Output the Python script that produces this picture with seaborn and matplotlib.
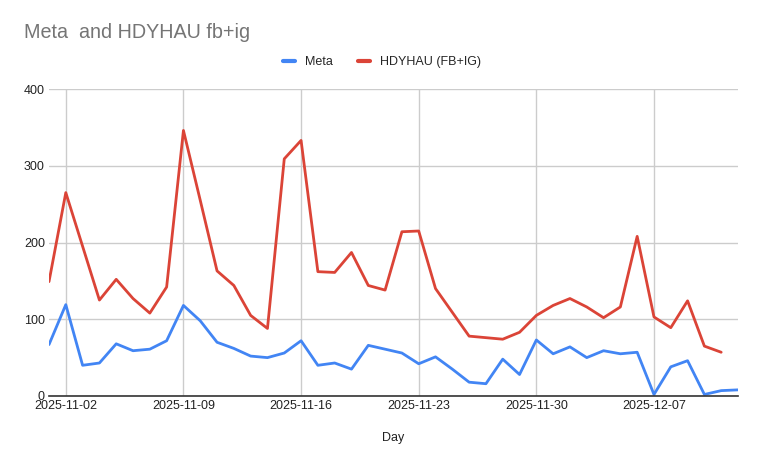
import matplotlib
matplotlib.use("Agg")
import matplotlib.pyplot as plt
import matplotlib.dates as mdates
import seaborn as sns
import pandas as pd
import numpy as np

dates = pd.date_range("2025-11-01", "2025-12-12", freq="D")

meta = [67, 119, 40, 43, 68, 59, 61, 72, 118, 98, 70, 62, 52, 50, 56,
        72, 40, 43, 35, 66, 61, 56, 42, 51, 35, 18, 16, 48, 28,
        73, 55, 64, 50, 59, 55, 57, 2, 38, 46, 2, 7, 8]
hdyhau = [149, 265, 195, 125, 152, 127, 108, 142, 346, 255, 163, 144, 105, 88, 309,
          333, 162, 161, 187, 144, 138, 214, 215, 140, 109, 78, 76, 74, 83,
          105, 118, 127, 116, 102, 116, 208, 103, 89, 124, 65, 57, np.nan]

series_names = ["Meta", "HDYHAU (FB+IG)"]
colors = ["#4285F4", "#DB4437"]
yticks = [0, 100, 200, 300, 400]
xtick_labels = ["2025-11-02", "2025-11-09", "2025-11-16", "2025-11-23", "2025-11-30", "2025-12-07"]

df = pd.DataFrame({"Day": list(dates) * 2,
                   "value": meta + hdyhau,
                   "series": [series_names[0]] * len(dates) + [series_names[1]] * len(dates)})
df = df.dropna()

sns.set_style("white")
plt.rcParams["font.family"] = ["Liberation Sans", "DejaVu Sans"]

fig = plt.figure(figsize=(7.62, 4.63), dpi=100)
ax = fig.add_axes([49/762, 1-396/463, (738-49)/762, (396-89)/463])

sns.lineplot(data=df, x="Day", y="value", hue="series", palette=colors,
             hue_order=series_names, linewidth=2, ax=ax, legend=False)

ax.set_ylim(0, 400)
ax.set_xlim(pd.Timestamp("2025-11-01"), pd.Timestamp("2025-12-12"))
ax.set_yticks(yticks)
ax.set_yticklabels([str(v) for v in yticks], fontsize=9, color="#222222")
xt = [pd.Timestamp(s) for s in xtick_labels]
ax.set_xticks(xt)
ax.set_xticklabels(xtick_labels, fontsize=9, color="#222222")
ax.grid(True, color="#cccccc", linewidth=1)
ax.set_axisbelow(True)
for s in ["top", "right", "left"]:
    ax.spines[s].set_visible(False)
ax.spines["bottom"].set_color("#333333")
ax.spines["bottom"].set_linewidth(1.2)
ax.tick_params(axis="both", length=0, pad=3)
ax.set_ylabel("")
ax.set_xlabel("Day", fontsize=9, color="#222222", labelpad=14)

fig.text(24/762, 1-38/463, "Meta  and HDYHAU fb+ig", fontsize=14.2, color="#757575",
         ha="left", va="baseline")

# legend
from matplotlib.lines import Line2D
handles = [Line2D([0], [0], color=c, linewidth=3) for c in colors]
fig.legend(handles, series_names, loc="center", bbox_to_anchor=(382/762, 1-62/463),
           ncol=2, frameon=False, fontsize=9, handlelength=1.0, columnspacing=2.0,
           handletextpad=0.8)

fig.savefig("out.png", dpi=100)
